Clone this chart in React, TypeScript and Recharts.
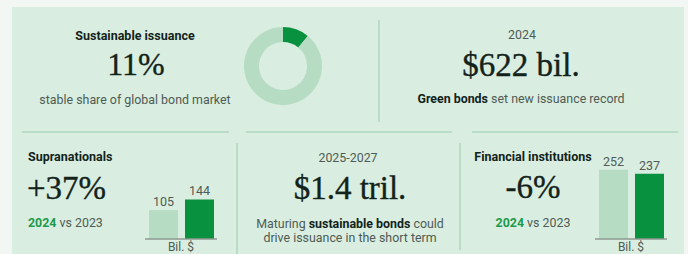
import React from "react";
import { PieChart, Pie, Cell, BarChart, Bar, XAxis, YAxis, LabelList } from "recharts";

const shareData = [
  { name: "Sustainable", value: 11 },
  { name: "Other bonds", value: 89 },
];

const supraData = [
  { year: "2023", value: 105 },
  { year: "2024", value: 144 },
];

const finData = [
  { year: "2023", value: 252 },
  { year: "2024", value: 237 },
];

const DARK = "#08913f";
const LIGHT = "#b7dcc4";
const RULE = "#acd6bb";
const INK = "#13231a";
const GREY = "#4f5b54";
const SANS = "Roboto, 'Noto Sans', sans-serif";
const SERIF = "'Liberation Serif', 'DejaVu Serif', serif";

function MiniBars({ data, left }: { data: { year: string; value: number }[]; left: number }) {
  return (
    <div style={{ position: "absolute", left, top: 142 }}>
      <BarChart width={72} height={112} data={data} margin={{ top: 20, right: 0, bottom: 0, left: 0 }} barCategoryGap={0}>
        <YAxis hide domain={[0, 280]} />
        <XAxis
          dataKey="year"
          tick={false}
          tickLine={false}
          height={15}
          axisLine={{ stroke: "#8e9892", strokeWidth: 1.5 }}
          label={{ value: "Bil. $", position: "insideBottom", offset: 3, fill: GREY, fontSize: 12, fontFamily: SANS }}
        />
        <Bar dataKey="value" barSize={29} isAnimationActive={false}>
          {data.map((d, i) => (
            <Cell key={d.year} fill={i === 0 ? LIGHT : DARK} />
          ))}
          <LabelList dataKey="value" position="top" offset={4} fill={GREY} fontSize={12.5} fontFamily={SANS} />
        </Bar>
      </BarChart>
    </div>
  );
}

export default function App() {
  const big = { fontSize: 33, fontFamily: SERIF, fill: INK, stroke: INK, strokeWidth: 0.35 };
  return (
    <div style={{ position: "absolute", left: 0, top: 0, width: 688, height: 254, background: "#f3f7f3", overflow: "hidden" }}>
      <div style={{ position: "absolute", left: 12, top: 7, width: 672, height: 247, background: "#d9eee1" }} />
      <svg width={688} height={254} style={{ position: "absolute", left: 0, top: 0 }}>
        <g stroke={RULE} strokeWidth={1.5}>
          <line x1={379} y1={20} x2={379} y2={122} />
          <line x1={22} y1={132} x2={229} y2={132} />
          <line x1={246} y1={132} x2={452} y2={132} />
          <line x1={472} y1={132} x2={678} y2={132} />
          <line x1={237} y1={143} x2={237} y2={254} />
          <line x1={460} y1={143} x2={460} y2={250} />
        </g>
        <g style={{ fontFamily: SANS }}>
          <text x={135} y={40} textAnchor="middle" fontSize={12.5} fontWeight={700} fill={INK}>Sustainable issuance</text>
          <text x={136} y={75} textAnchor="middle" {...big} fontSize={32}>11%</text>
          <text x={135} y={104} textAnchor="middle" fontSize={12.4} fill={GREY}>stable share of global bond market</text>

          <text x={522} y={39} textAnchor="middle" fontSize={12.4} fill={GREY}>2024</text>
          <text x={521} y={76} textAnchor="middle" {...big}>$622 bil.</text>
          <text x={521} y={103} textAnchor="middle" fontSize={12.4} fill={GREY}>
            <tspan fontWeight={700} fill={INK}>Green bonds</tspan> set new issuance record
          </text>

          <text x={28} y={161} fontSize={12.5} fontWeight={700} fill={INK}>Supranationals</text>
          <text x={27} y={199} {...big}>+37%</text>
          <text x={28} y={227} fontSize={12.4} fill={GREY}>
            <tspan fontWeight={700} fill="#1c9a4b">2024</tspan> vs 2023
          </text>

          <text x={348} y={162} textAnchor="middle" fontSize={12.4} fill={GREY}>2025-2027</text>
          <text x={350} y={199} textAnchor="middle" {...big}>$1.4 tril.</text>
          <text x={350} y={228} textAnchor="middle" fontSize={12.4} fill={GREY}>
            Maturing <tspan fontWeight={700} fill={INK}>sustainable bonds</tspan> could
          </text>
          <text x={350} y={242} textAnchor="middle" fontSize={12.4} fill={GREY}>drive issuance in the short term</text>

          <text x={533} y={161} textAnchor="middle" fontSize={12.5} fontWeight={700} fill={INK}>Financial institutions</text>
          <text x={533} y={198} textAnchor="middle" {...big}>-6%</text>
          <text x={533} y={227} textAnchor="middle" fontSize={12.4} fill={GREY}>
            <tspan fontWeight={700} fill="#1c9a4b">2024</tspan> vs 2023
          </text>
        </g>
      </svg>

      <div style={{ position: "absolute", left: 238, top: 21 }}>
        <PieChart width={90} height={90}>
          <Pie
            data={shareData}
            dataKey="value"
            startAngle={90}
            endAngle={-270}
            innerRadius={24}
            outerRadius={39}
            stroke="none"
            isAnimationActive={false}
          >
            {shareData.map((d, i) => (
              <Cell key={d.name} fill={i === 0 ? DARK : LIGHT} />
            ))}
          </Pie>
        </PieChart>
      </div>

      <MiniBars data={supraData} left={145} />
      <MiniBars data={finData} left={595} />
    </div>
  );
}
